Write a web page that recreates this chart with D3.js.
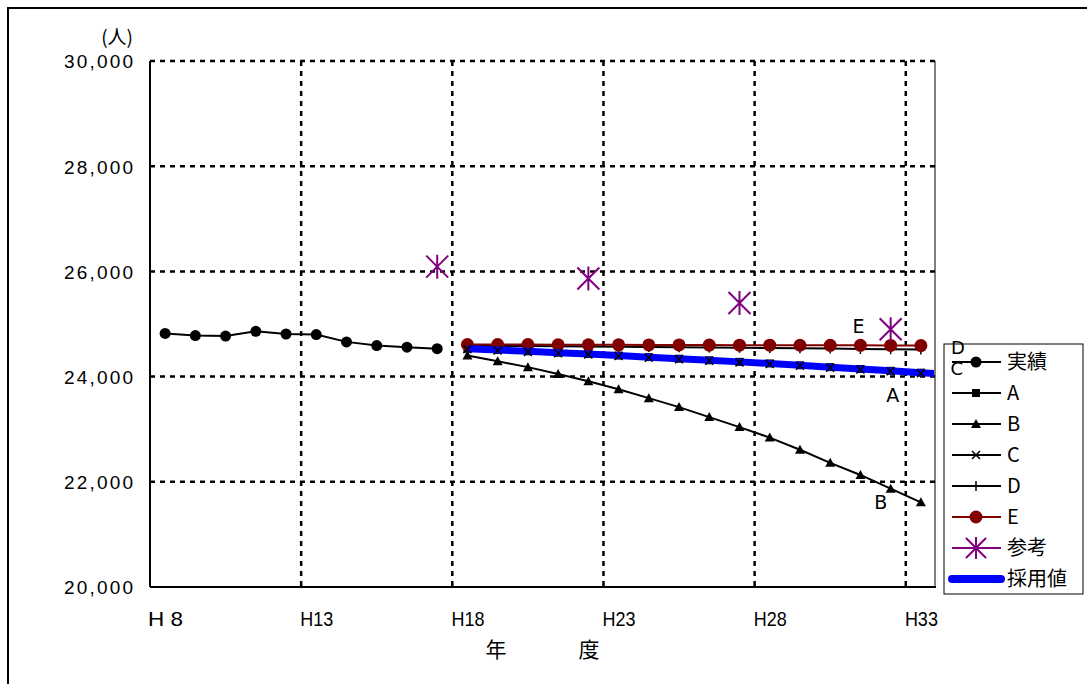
<!DOCTYPE html>
<html><head><meta charset="utf-8">
<script src="https://cdn.jsdelivr.net/npm/d3@7"></script>
<style>body{margin:0;background:#fff}</style>
</head><body>
<svg id="chart" width="1087" height="684"></svg>
<script>
// ---------- data ----------
const xTickYears  = [8, 13, 18, 23, 28, 33];
const xTickLabels = ["H 8", "H13", "H18", "H23", "H28", "H33"];
const yTicks = [20000, 22000, 24000, 26000, 28000, 30000];

const actualYears = [8, 9, 10, 11, 12, 13, 14, 15, 16, 17];
const actual = [24820, 24780, 24770, 24860, 24810, 24800, 24660, 24590, 24560, 24530];

const projYears = [18, 19, 20, 21, 22, 23, 24, 25, 26, 27, 28, 29, 30, 31, 32, 33];
const seriesA = [24530, 24505, 24480, 24455, 24430, 24400, 24370, 24340, 24310, 24280, 24250, 24215, 24180, 24145, 24110, 24075];
const seriesB = [24400, 24290, 24180, 24050, 23910, 23760, 23590, 23420, 23230, 23040, 22840, 22610, 22360, 22130, 21870, 21610];
const seriesC = [24520, 24495, 24470, 24445, 24420, 24390, 24360, 24330, 24300, 24270, 24240, 24205, 24170, 24135, 24100, 24065];
const seriesD = [24590, 24585, 24580, 24578, 24572, 24568, 24562, 24558, 24552, 24548, 24542, 24538, 24532, 24526, 24520, 24515];
const seriesE = [24610, 24610, 24608, 24606, 24605, 24604, 24603, 24602, 24600, 24598, 24597, 24596, 24595, 24594, 24592, 24590];

const adoptedYears = [18, 19, 20, 21, 22, 23, 24, 25, 26, 27, 28, 29, 30, 31, 32, 33, 34];
const adopted = [24530, 24505, 24480, 24455, 24430, 24400, 24370, 24340, 24310, 24280, 24250, 24215, 24180, 24145, 24110, 24075, 24040];

const refYears = [17, 22, 27, 32];
const reference = [26090, 25865, 25400, 24900];

const legendNames = ["実績", "A", "B", "C", "D", "E", "参考", "採用値"];

// ---------- layout ----------
const svg = d3.select("#chart");
const L = 150, R = 936, T = 61, B = 587;
const x = d3.scaleLinear().domain([7.5, 33.5]).range([L, R]);
const y = d3.scaleLinear().domain([20000, 30000]).range([B, T]);

svg.append("rect").attr("width", 1087).attr("height", 684).attr("fill", "#fff");
svg.append("rect").attr("x", 8).attr("y", 8).attr("width", 1200).attr("height", 800)
  .attr("fill", "none").attr("stroke", "#000").attr("stroke-width", 2);

svg.append("clipPath").attr("id", "plotclip").append("rect")
  .attr("x", L).attr("y", T - 20).attr("width", R - L - 2).attr("height", B - T + 40);

// grid
const grid = svg.append("g");
[22000, 24000, 26000, 28000, 30000].forEach(v => {
  grid.append("line").attr("x1", L).attr("x2", R).attr("y1", y(v)).attr("y2", y(v))
    .attr("stroke", "#000").attr("stroke-width", 2.5).attr("stroke-dasharray", "5,5");
});
[12.5, 17.5, 22.5, 27.5, 32.5].forEach(v => {
  grid.append("line").attr("x1", x(v)).attr("x2", x(v)).attr("y1", T).attr("y2", B)
    .attr("stroke", "#000").attr("stroke-width", 2.5).attr("stroke-dasharray", "5,5");
});
// axes lines
svg.append("line").attr("x1", L).attr("x2", L).attr("y1", T).attr("y2", B).attr("stroke", "#000").attr("stroke-width", 2);
svg.append("line").attr("x1", L).attr("x2", R).attr("y1", B).attr("y2", B).attr("stroke", "#000").attr("stroke-width", 2);
svg.append("line").attr("x1", R - 1).attr("x2", R - 1).attr("y1", T).attr("y2", B).attr("stroke", "#000").attr("stroke-width", 1);

// y tick labels via axis
const yAxis = d3.axisLeft(y).tickValues(yTicks).tickSize(0).tickPadding(0)
  .tickFormat(d3.format(","));
const yg = svg.append("g").attr("transform", `translate(${L - 17},0)`).call(yAxis);
yg.select(".domain").remove();
yg.selectAll("text").attr("font-family", "'Liberation Sans', Arial, sans-serif").attr("font-size", 19)
  .attr("fill", "#000").attr("dy", "0.36em")
  .attr("textLength", 69).attr("lengthAdjust", "spacing");

// x tick labels
const xAxis = d3.axisBottom(x).tickValues(xTickYears).tickSize(0).tickPadding(0)
  .tickFormat((d, i) => xTickLabels[i]);
const xg = svg.append("g").attr("transform", `translate(0,${B})`).call(xAxis);
xg.select(".domain").remove();
xg.selectAll("text").attr("font-family", "'Liberation Sans', Arial, sans-serif").attr("font-size", 21)
  .attr("fill", "#000").attr("dy", null).attr("y", 39)
  .attr("textLength", (d, i) => i === 0 ? 35 : 33).attr("lengthAdjust", "spacingAndGlyphs");

// axis titles
const cjk = "'Noto Sans CJK JP', sans-serif";
svg.append("text").attr("x", 133).attr("y", 44).attr("text-anchor", "end")
  .attr("font-family", cjk).attr("font-size", 19).text("(人)");
svg.append("text").attr("x", 496).attr("y", 657).attr("text-anchor", "middle")
  .attr("font-family", cjk).attr("font-size", 21).text("年");
svg.append("text").attr("x", 589).attr("y", 657).attr("text-anchor", "middle")
  .attr("font-family", cjk).attr("font-size", 21).text("度");

// ---------- markers ----------
function marker(g, type, cx, cy) {
  if (type === "circle") {
    g.append("circle").attr("cx", cx).attr("cy", cy).attr("r", 5.5).attr("fill", "#000");
  } else if (type === "circleRed") {
    g.append("circle").attr("cx", cx).attr("cy", cy).attr("r", 6.5).attr("fill", "#800000");
  } else if (type === "square") {
    g.append("rect").attr("x", cx - 4).attr("y", cy - 4).attr("width", 8).attr("height", 8).attr("fill", "#000");
  } else if (type === "triangle") {
    g.append("path").attr("d", `M${cx},${cy - 5}L${cx + 5},${cy + 4}L${cx - 5},${cy + 4}Z`).attr("fill", "#000");
  } else if (type === "x") {
    g.append("path").attr("d", `M${cx - 4},${cy - 4}L${cx + 4},${cy + 4}M${cx - 4},${cy + 4}L${cx + 4},${cy - 4}`)
      .attr("stroke", "#000").attr("stroke-width", 1.5);
  } else if (type === "plus") {
    g.append("path").attr("d", `M${cx},${cy - 5}L${cx},${cy + 5}`)
      .attr("stroke", "#000").attr("stroke-width", 1.5);
  } else if (type === "star") {
    g.append("path").attr("d", `M${cx},${cy - 12}L${cx},${cy + 12}M${cx - 11},${cy - 11}L${cx + 11},${cy + 11}M${cx - 11},${cy + 11}L${cx + 11},${cy - 11}`)
      .attr("stroke", "#800080").attr("stroke-width", 2);
  }
}

const line = d3.line().x(d => x(d[0])).y(d => y(d[1]));
const zip = (xs, vs) => xs.map((v, i) => [v, vs[i]]);

const plot = svg.append("g").attr("clip-path", "url(#plotclip)");

function drawSeries(xs, vs, color, width, mtype, showLine = true) {
  const pts = zip(xs, vs);
  if (showLine) plot.append("path").datum(pts).attr("d", line).attr("fill", "none")
    .attr("stroke", color).attr("stroke-width", width);
  const mg = plot.append("g");
  if (mtype) pts.forEach(p => marker(mg, mtype, x(p[0]), y(p[1])));
}

drawSeries(actualYears, actual, "#000", 2, "circle");
drawSeries(projYears, seriesB, "#000", 2, "triangle");
drawSeries(projYears, seriesA, "#000", 1.5, "square");
drawSeries(projYears, seriesD, "#000", 2, "plus");
drawSeries(projYears, seriesE, "#800000", 2, "circleRed");
drawSeries(adoptedYears, adopted, "#0000ff", 7, null);
drawSeries(projYears, seriesC, "#000", 1, "x", false);
drawSeries(refYears, reference, "#800080", 2, "star", false);

// ---------- legend ----------
const lg = svg.append("g");
lg.append("rect").attr("x", 944).attr("y", 344).attr("width", 139).attr("height", 250)
  .attr("fill", "#fff").attr("stroke", "#000").attr("stroke-width", 1);
const legendStyle = [
  { c: "#000", w: 2, m: "circle" }, { c: "#000", w: 2, m: "square" }, { c: "#000", w: 2, m: "triangle" },
  { c: "#000", w: 2, m: "x" }, { c: "#000", w: 2, m: "plus" }, { c: "#800000", w: 2, m: "circleRed" },
  { c: "#800080", w: 2, m: "star" }, { c: "#0000ff", w: 8, m: null }
];
legendNames.forEach((name, i) => {
  const ly = 362 + i * 31;
  const st = legendStyle[i];
  lg.append("line").attr("x1", 952).attr("x2", 1001).attr("y1", ly).attr("y2", ly)
    .attr("stroke", st.c).attr("stroke-width", st.w).attr("stroke-linecap", st.m ? "butt" : "round");
  if (st.m) {
    if (st.m === "star") {
      lg.append("path").attr("d", `M976,${ly - 11}L976,${ly + 11}M966,${ly - 10}L986,${ly + 10}M966,${ly + 10}L986,${ly - 10}`)
        .attr("stroke", "#800080").attr("stroke-width", 2);
    } else marker(lg, st.m, 976, ly);
  }
  lg.append("text").attr("x", 1007).attr("y", ly + 7).attr("font-family", cjk).attr("font-size", 20).text(name);
});

// ---------- data labels ----------
const lbl = (t, px, py, fs) => svg.append("text").attr("x", px).attr("y", py).attr("text-anchor", "middle")
  .attr("font-family", "'DejaVu Sans', sans-serif").attr("font-size", fs).attr("fill", "#000").text(t);
lbl("E", x(31) - 2, y(seriesE[13]) - 12, 19);
lbl("A", x(32) + 2, y(seriesA[14]) + 31, 19);
lbl("B", x(32) - 10, y(seriesB[14]) + 20, 19);
lbl("D", x(33) + 37, y(seriesD[15]) + 4, 18);
lbl("C", x(33) + 36, y(seriesC[15]) + 2, 18);
</script>
</body></html>
